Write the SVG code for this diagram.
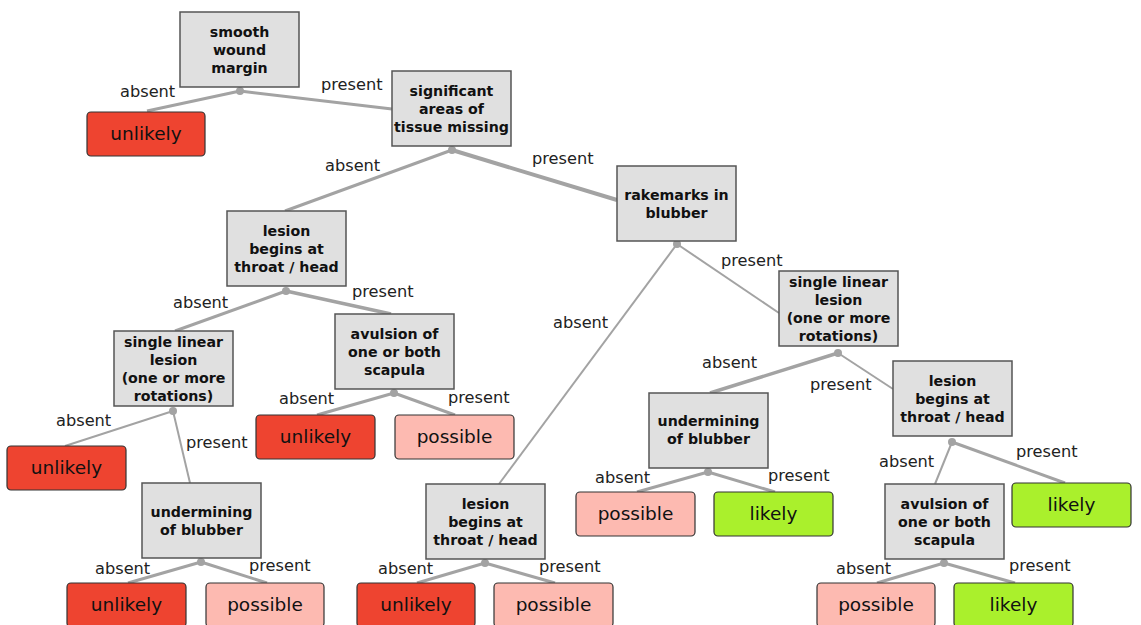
<svg xmlns="http://www.w3.org/2000/svg" width="1141" height="625" viewBox="0 0 1141 625">
<style>
.d rect{fill:#e0e0e0;stroke:#555;stroke-width:1.5}
.d text{font-family:"DejaVu Sans",sans-serif;font-weight:bold;font-size:14.2px;fill:#111;text-anchor:middle}
.l rect{stroke:#333;stroke-width:1.2}
.l text{font-family:"DejaVu Sans",sans-serif;font-size:18.5px;fill:#111;text-anchor:middle}
.un rect{fill:#ee4430}
.po rect{fill:#fdbab1}
.li rect{fill:#aaf02c}
#edges line{stroke:#a3a3a3;stroke-linecap:butt}
#edges circle{fill:#a3a3a3}
#labels text{font-family:"DejaVu Sans",sans-serif;font-size:16.2px;fill:#222}
</style>
<rect width="1141" height="625" fill="#fff"/>
<g id="edges">
<line x1="240" y1="91" x2="147" y2="111" stroke-width="3"/>
<line x1="240" y1="91" x2="392" y2="109" stroke-width="3"/>
<line x1="452" y1="150" x2="285" y2="211" stroke-width="3"/>
<line x1="452" y1="150" x2="617" y2="200" stroke-width="4"/>
<line x1="286" y1="291" x2="175" y2="331" stroke-width="3"/>
<line x1="286" y1="291" x2="391" y2="314" stroke-width="3.5"/>
<line x1="173" y1="411" x2="65" y2="446" stroke-width="2"/>
<line x1="173" y1="411" x2="190" y2="483" stroke-width="2"/>
<line x1="394" y1="393" x2="317" y2="415" stroke-width="3"/>
<line x1="394" y1="393" x2="455" y2="415" stroke-width="3"/>
<line x1="201" y1="562" x2="128" y2="583" stroke-width="3"/>
<line x1="201" y1="562" x2="267" y2="583" stroke-width="3"/>
<line x1="677" y1="244" x2="499" y2="484" stroke-width="2"/>
<line x1="677" y1="244" x2="779" y2="313" stroke-width="2"/>
<line x1="485" y1="563" x2="417" y2="583" stroke-width="3"/>
<line x1="485" y1="563" x2="555" y2="583" stroke-width="3"/>
<line x1="838" y1="353" x2="710" y2="393" stroke-width="3.5"/>
<line x1="838" y1="353" x2="893" y2="389" stroke-width="2"/>
<line x1="708" y1="472" x2="637" y2="492" stroke-width="3"/>
<line x1="708" y1="472" x2="775" y2="492" stroke-width="3"/>
<line x1="952" y1="442" x2="935" y2="484" stroke-width="2"/>
<line x1="952" y1="442" x2="1065" y2="483" stroke-width="3"/>
<line x1="944" y1="563" x2="877" y2="583" stroke-width="3"/>
<line x1="944" y1="563" x2="1015" y2="583" stroke-width="3"/>
<circle cx="240" cy="91" r="4"/>
<circle cx="452" cy="150" r="4"/>
<circle cx="286" cy="291" r="4"/>
<circle cx="677" cy="244" r="4"/>
<circle cx="173" cy="411" r="4"/>
<circle cx="394" cy="393" r="4"/>
<circle cx="838" cy="353" r="4"/>
<circle cx="201" cy="562" r="4"/>
<circle cx="485" cy="563" r="4"/>
<circle cx="708" cy="472" r="4"/>
<circle cx="952" cy="442" r="4"/>
<circle cx="944" cy="563" r="4"/>
</g>
<g id="labels">
<text x="120" y="97">absent</text>
<text x="321" y="90">present</text>
<text x="325" y="171">absent</text>
<text x="532" y="164">present</text>
<text x="173" y="308">absent</text>
<text x="352" y="297">present</text>
<text x="56" y="426">absent</text>
<text x="186" y="448">present</text>
<text x="279" y="404">absent</text>
<text x="448" y="403">present</text>
<text x="95" y="574">absent</text>
<text x="249" y="571">present</text>
<text x="378" y="574">absent</text>
<text x="539" y="572">present</text>
<text x="553" y="328">absent</text>
<text x="721" y="266">present</text>
<text x="702" y="368">absent</text>
<text x="810" y="390">present</text>
<text x="595" y="483">absent</text>
<text x="768" y="481">present</text>
<text x="879" y="467">absent</text>
<text x="1016" y="457">present</text>
<text x="836" y="574">absent</text>
<text x="1009" y="571">present</text>
</g>
<g id="d1" class="d"><rect x="180" y="12" width="119" height="75"/><text x="239.5" y="36.5">smooth</text><text x="239.5" y="54.5">wound</text><text x="239.5" y="72.5">margin</text></g>
<g id="d2" class="d"><rect x="392" y="71" width="119" height="75"/><text x="451.5" y="95.5">significant</text><text x="451.5" y="113.5">areas of</text><text x="451.5" y="131.5">tissue missing</text></g>
<g id="d3" class="d"><rect x="227" y="211" width="119" height="75"/><text x="286.5" y="235.5">lesion</text><text x="286.5" y="253.5">begins at</text><text x="286.5" y="271.5">throat / head</text></g>
<g id="d4" class="d"><rect x="617" y="166" width="119" height="75"/><text x="676.5" y="199.5">rakemarks in</text><text x="676.5" y="217.5">blubber</text></g>
<g id="d5" class="d"><rect x="114" y="331" width="119" height="75"/><text x="173.5" y="346.5">single linear</text><text x="173.5" y="364.5">lesion</text><text x="173.5" y="382.5">(one or more</text><text x="173.5" y="400.5">rotations)</text></g>
<g id="d6" class="d"><rect x="335" y="314" width="119" height="75"/><text x="394.5" y="338.5">avulsion of</text><text x="394.5" y="356.5">one or both</text><text x="394.5" y="374.5">scapula</text></g>
<g id="d7" class="d"><rect x="779" y="271" width="119" height="75"/><text x="838.5" y="286.5">single linear</text><text x="838.5" y="304.5">lesion</text><text x="838.5" y="322.5">(one or more</text><text x="838.5" y="340.5">rotations)</text></g>
<g id="d8" class="d"><rect x="142" y="483" width="119" height="75"/><text x="201.5" y="516.5">undermining</text><text x="201.5" y="534.5">of blubber</text></g>
<g id="d9" class="d"><rect x="426" y="484" width="119" height="75"/><text x="485.5" y="508.5">lesion</text><text x="485.5" y="526.5">begins at</text><text x="485.5" y="544.5">throat / head</text></g>
<g id="d10" class="d"><rect x="649" y="393" width="119" height="75"/><text x="708.5" y="425.5">undermining</text><text x="708.5" y="443.5">of blubber</text></g>
<g id="d11" class="d"><rect x="893" y="361" width="119" height="75"/><text x="952.5" y="385.5">lesion</text><text x="952.5" y="403.5">begins at</text><text x="952.5" y="421.5">throat / head</text></g>
<g id="d12" class="d"><rect x="885" y="484" width="119" height="75"/><text x="944.5" y="508.5">avulsion of</text><text x="944.5" y="526.5">one or both</text><text x="944.5" y="544.5">scapula</text></g>
<g id="l1" class="l un"><rect x="87" y="112" width="118" height="44" rx="4"/><text x="146" y="140">unlikely</text></g>
<g id="l2" class="l un"><rect x="7" y="446" width="119" height="44" rx="4"/><text x="66.5" y="474">unlikely</text></g>
<g id="l3" class="l un"><rect x="256" y="415" width="119" height="44" rx="4"/><text x="315.5" y="443">unlikely</text></g>
<g id="l4" class="l po"><rect x="395" y="415" width="119" height="44" rx="4"/><text x="454.5" y="443">possible</text></g>
<g id="l5" class="l un"><rect x="67" y="583" width="119" height="44" rx="4"/><text x="126.5" y="611">unlikely</text></g>
<g id="l6" class="l po"><rect x="206" y="583" width="118" height="44" rx="4"/><text x="265" y="611">possible</text></g>
<g id="l7" class="l un"><rect x="357" y="583" width="118" height="44" rx="4"/><text x="416" y="611">unlikely</text></g>
<g id="l8" class="l po"><rect x="494" y="583" width="119" height="44" rx="4"/><text x="553.5" y="611">possible</text></g>
<g id="l9" class="l po"><rect x="576" y="492" width="119" height="44" rx="4"/><text x="635.5" y="520">possible</text></g>
<g id="l10" class="l li"><rect x="714" y="492" width="119" height="44" rx="4"/><text x="773.5" y="520">likely</text></g>
<g id="l11" class="l li"><rect x="1012" y="483" width="119" height="44" rx="4"/><text x="1071.5" y="511">likely</text></g>
<g id="l12" class="l po"><rect x="817" y="583" width="118" height="44" rx="4"/><text x="876" y="611">possible</text></g>
<g id="l13" class="l li"><rect x="954" y="583" width="119" height="44" rx="4"/><text x="1013.5" y="611">likely</text></g>
</svg>
